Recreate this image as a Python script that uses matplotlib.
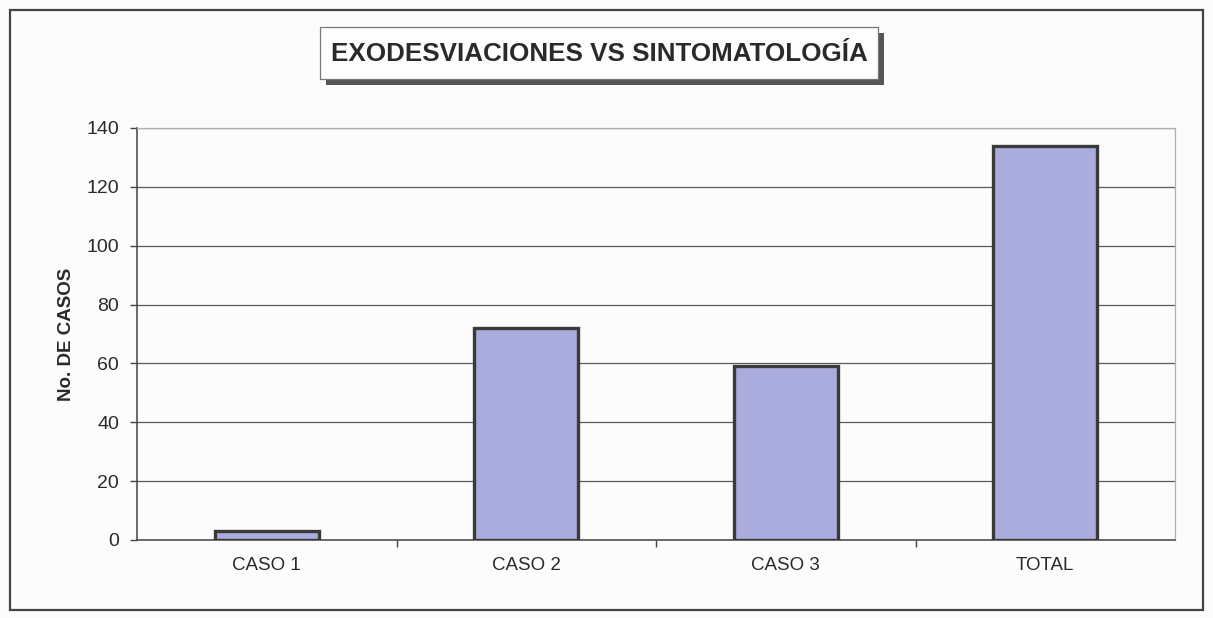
import matplotlib
matplotlib.use("Agg")
import matplotlib.pyplot as plt
from matplotlib.patches import Rectangle

categories = ["CASO 1", "CASO 2", "CASO 3", "TOTAL"]
values = [3, 72, 59, 134]
y_ticks = [0, 20, 40, 60, 80, 100, 120, 140]
title = "EXODESVIACIONES VS SINTOMATOLOGÍA"
ylabel = "No. DE CASOS"

plt.rcParams['font.family'] = ['Liberation Sans', 'DejaVu Sans']

W, H = 1213, 618
fig = plt.figure(figsize=(W / 100, H / 100), dpi=100, facecolor="#fcfcfc")

def fx(px):
    return px / W

def fy(py):
    return 1 - py / H

ax = fig.add_axes([fx(137), fy(540), fx(1175) - fx(137), fy(128) - fy(540)])
ax.set_facecolor("#fcfcfc")

x = list(range(len(categories)))
ax.bar(x, values, width=0.4, color="#a9acdc", edgecolor="#3a3a3a", linewidth=2.4, zorder=3)

ax.set_xlim(-0.5, len(categories) - 0.5)
ax.set_ylim(0, 140)
ax.set_yticks(y_ticks)
ax.set_yticklabels([str(t) for t in y_ticks])
ax.yaxis.grid(True, color="#5a5a5a", linewidth=0.9, zorder=0)
ax.set_axisbelow(True)

ax.set_xticks([i + 0.5 for i in range(len(categories) - 1)], minor=False)
ax.set_xticklabels([])
ax.set_xticks(x, minor=True)
ax.set_xticklabels(categories, minor=True)
ax.tick_params(axis="x", which="major", direction="out", length=5, width=1, color="#444444")
ax.tick_params(axis="x", which="minor", length=0, pad=12, labelsize=13.5, labelcolor="#2a2a2a")
ax.tick_params(axis="y", direction="out", length=5, width=1, color="#444444", pad=8,
               labelsize=14, labelcolor="#2a2a2a")

for s in ["left", "bottom"]:
    ax.spines[s].set_color("#444444")
    ax.spines[s].set_linewidth(1.1)
for s in ["top", "right"]:
    ax.spines[s].set_color("#b0b0b0")
    ax.spines[s].set_linewidth(0.9)

ax.set_ylabel(ylabel, fontsize=13.5, fontweight="bold", color="#2a2a2a")
ax.yaxis.set_label_coords(-0.06, 0.5)

# Title box with shadow
bx0, bx1, by0, by1 = 320, 878, 27, 79
sh = 6
fig.patches.append(Rectangle((fx(bx0 + sh), fy(by1 + sh)), fx(bx1) - fx(bx0), fy(by0) - fy(by1),
                             transform=fig.transFigure, facecolor="#555555", edgecolor="none", zorder=1))
fig.patches.append(Rectangle((fx(bx0), fy(by1)), fx(bx1) - fx(bx0), fy(by0) - fy(by1),
                             transform=fig.transFigure, facecolor="#fdfdfd", edgecolor="#777777",
                             linewidth=0.9, zorder=2))
fig.text(fx((bx0 + bx1) / 2), fy((by0 + by1) / 2 + 1), title, ha="center", va="center",
         fontsize=18.7, fontweight="bold", color="#2a2a2a", zorder=3)

# Outer frame
fig.patches.append(Rectangle((fx(10), fy(610)), fx(1203) - fx(10), fy(10) - fy(610),
                             transform=fig.transFigure, facecolor="none", edgecolor="#444444",
                             linewidth=1.6, zorder=0))

fig.savefig("out.png", dpi=100, facecolor=fig.get_facecolor())
